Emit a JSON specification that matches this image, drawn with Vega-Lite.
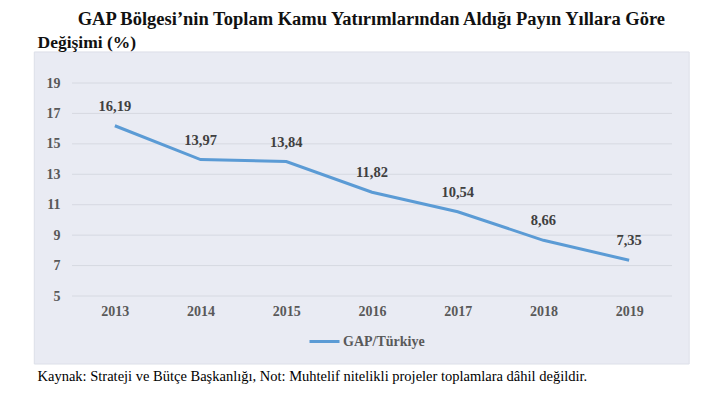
{
  "$schema": "https://vega.github.io/schema/vega-lite/v6.json",
  "width": 600,
  "height": 213,
  "autosize": {"type": "none"},
  "padding": {"left": 72, "top": 83, "right": 30, "bottom": 100},
  "background": "white",
  "config": {
    "view": {"stroke": null},
    "font": "Liberation Serif",
    "axis": {"labelOverlap": false},
    "locale": {"number": {"decimal": ",", "thousands": ".", "grouping": [3], "currency": ["", " TL"]}}
  },
  "title": {
    "text": "GAP Bölgesi’nin Toplam Kamu Yatırımlarından Aldığı Payın Yıllara Göre",
    "anchor": "end",
    "frame": "group",
    "dx": -7,
    "offset": 5,
    "font": "Liberation Serif",
    "fontSize": 18.5,
    "fontWeight": "bold",
    "color": "#111111"
  },
  "datasets": {
    "seri": [
      {"yil": 2013, "deger": 16.19, "seri": "GAP/Türkiye"},
      {"yil": 2014, "deger": 13.97, "seri": "GAP/Türkiye"},
      {"yil": 2015, "deger": 13.84, "seri": "GAP/Türkiye"},
      {"yil": 2016, "deger": 11.82, "seri": "GAP/Türkiye"},
      {"yil": 2017, "deger": 10.54, "seri": "GAP/Türkiye"},
      {"yil": 2018, "deger": 8.66, "seri": "GAP/Türkiye"},
      {"yil": 2019, "deger": 7.35, "seri": "GAP/Türkiye"}
    ],
    "izgara": [
      {"g": 5}, {"g": 7}, {"g": 9}, {"g": 11}, {"g": 13}, {"g": 15}, {"g": 17}, {"g": 19}
    ]
  },
  "layer": [
    {
      "data": {"values": [{"panel": "arka plan"}]},
      "mark": {"type": "rect", "fill": "#e9ebf3", "stroke": "#dcdfe8", "strokeWidth": 1},
      "encoding": {
        "x": {"datum": 2012.06, "type": "quantitative"},
        "x2": {"datum": 2019.7},
        "y": {"datum": 21.04, "type": "quantitative"},
        "y2": {"datum": 0.53}
      }
    },
    {
      "data": {"name": "izgara"},
      "mark": {"type": "rule", "stroke": "#d6d9e1", "strokeWidth": 1},
      "encoding": {
        "y": {"field": "g", "type": "quantitative"}
      }
    },
    {
      "data": {"name": "seri"},
      "mark": {"type": "line", "strokeWidth": 3, "strokeCap": "butt", "strokeJoin": "miter"},
      "encoding": {
        "x": {
          "field": "yil",
          "type": "quantitative",
          "scale": {"domain": [2012.5, 2019.5], "nice": false, "zero": false},
          "axis": {
            "values": [2013, 2014, 2015, 2016, 2017, 2018, 2019],
            "format": "d",
            "grid": false,
            "domain": false,
            "ticks": false,
            "zindex": 1,
            "labelOverlap": false,
            "labelPadding": 8,
            "labelFont": "Liberation Serif",
            "labelFontSize": 14,
            "labelFontWeight": "bold",
            "labelColor": "#595959",
            "title": "Kaynak: Strateji ve Bütçe Başkanlığı,  Not: Muhtelif nitelikli projeler toplamlara dâhil değildir.",
            "titleX": -35,
            "titleY": 80,
            "titleAlign": "left",
            "titleAnchor": null,
            "titleBaseline": "middle",
            "titleFont": "Liberation Serif",
            "titleFontSize": 14.5,
            "titleFontWeight": "normal",
            "titleColor": "#000000",
            "titleLimit": 700
          }
        },
        "y": {
          "field": "deger",
          "type": "quantitative",
          "scale": {"domain": [5, 19], "nice": false, "zero": false},
          "axis": {
            "values": [5, 7, 9, 11, 13, 15, 17, 19],
            "tickCount": 8,
            "grid": false,
            "domain": false,
            "ticks": false,
            "zindex": 1,
            "labelOverlap": false,
            "labelPadding": 12,
            "labelFont": "Liberation Serif",
            "labelFontSize": 14,
            "labelFontWeight": "bold",
            "labelColor": "#595959",
            "title": "Değişimi (%)",
            "titleAngle": 0,
            "titleX": -35,
            "titleY": -41,
            "titleAlign": "left",
            "titleAnchor": null,
            "titleBaseline": "middle",
            "titleFont": "Liberation Serif",
            "titleFontSize": 17.5,
            "titleFontWeight": "bold",
            "titleColor": "#111111",
            "titleLimit": 300
          }
        },
        "color": {
          "field": "seri",
          "type": "nominal",
          "scale": {"range": ["#5b9bd5"]},
          "legend": {
            "orient": "none",
            "legendX": 236,
            "legendY": 242,
            "title": null,
            "symbolType": "stroke",
            "symbolSize": 900,
            "symbolStrokeWidth": 3,
            "labelFont": "Liberation Serif",
            "labelFontSize": 14,
            "labelFontWeight": "bold",
            "labelColor": "#595959",
            "labelOffset": 2
          }
        }
      }
    },
    {
      "data": {"name": "seri"},
      "mark": {"type": "text", "dy": -19, "font": "Liberation Serif", "fontSize": 14.5, "fontWeight": "bold", "color": "#404040"},
      "encoding": {
        "x": {"field": "yil", "type": "quantitative"},
        "y": {"field": "deger", "type": "quantitative"},
        "text": {"field": "deger", "type": "quantitative", "format": ".2f"}
      }
    }
  ]
}
